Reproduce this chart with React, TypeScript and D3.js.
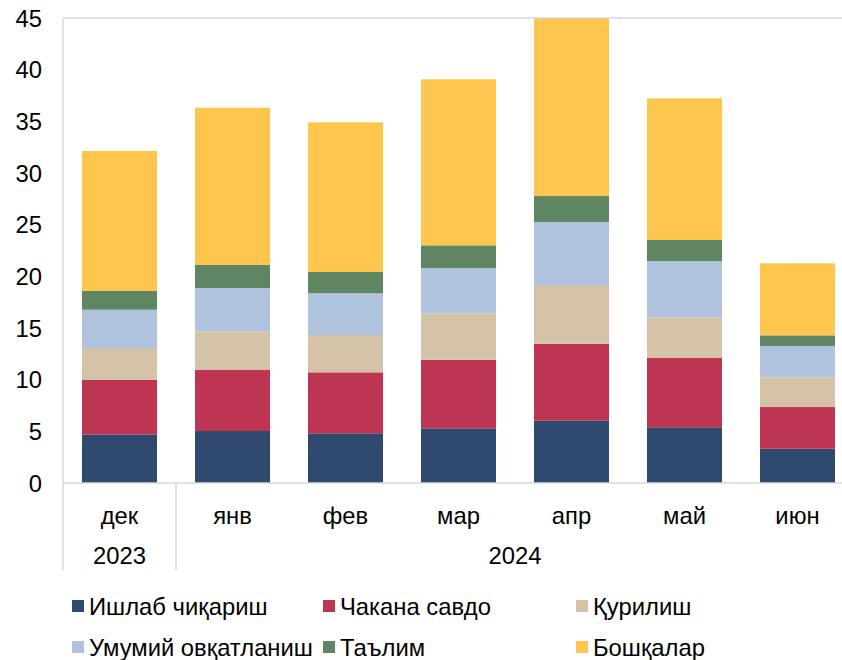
import { scaleBand, scaleLinear, stack } from "d3";

const months = ["дек", "янв", "фев", "мар", "апр", "май", "июн"];
const years = [
  { label: "2023", from: 0, to: 0 },
  { label: "2024", from: 1, to: 6 },
];

const seriesNames = [
  "Ишлаб чиқариш",
  "Чакана савдо",
  "Қурилиш",
  "Умумий овқатланиш",
  "Таълим",
  "Бошқалар",
];
const seriesColors = ["#2F4A6E", "#BE3453", "#D5C3A7", "#AFC3DE", "#5F8563", "#FEC64F"];

const manufacturing = [4.7, 5.03, 4.81, 5.29, 6.03, 5.39, 3.32];
const retail = [5.27, 5.94, 5.9, 6.64, 7.45, 6.74, 4.03];
const construction = [3.09, 3.71, 3.61, 4.49, 5.68, 3.9, 2.88];
const catering = [3.71, 4.19, 4.04, 4.39, 6.1, 5.45, 3.03];
const education = [1.81, 2.23, 2.06, 2.19, 2.51, 2.04, 1.03];
const other = [13.55, 15.22, 14.48, 16.07, 17.23, 13.71, 6.97];

const yTicks = [0, 5, 10, 15, 20, 25, 30, 35, 40, 45];

const W = 842;
const H = 660;
const M = { top: 18, left: 63, bottom: 483, right: 854 };
const FONT = "'Liberation Sans', Arial, sans-serif";
const FS = 23.8;

export default function App() {
  const seriesValues = [manufacturing, retail, construction, catering, education, other];
  const rows = months.map((m, i) => {
    const r: Record<string, number | string> = { month: m };
    seriesNames.forEach((s, k) => (r[s] = seriesValues[k][i]));
    return r;
  });
  const stacked = stack<any>().keys(seriesNames)(rows);

  const x = scaleBand<string>()
    .domain(months)
    .range([M.left, M.right])
    .paddingInner(0.336)
    .paddingOuter(0.168);
  const y = scaleLinear().domain([0, 45]).range([M.bottom, M.top]);
  const step = x.step();
  const axisLine = "#D9D9D9";

  // group boundaries on the category axis (left edge of each year group)
  const bounds = years.map((g) => (x(months[g.from]) ?? 0) - (step - x.bandwidth()) / 2);

  const legendCols = [72, 323, 576];
  const legendRows = [606, 647];

  return (
    <>
      <style>{"body{margin:0}"}</style>
      <svg width={W} height={H} style={{ display: "block", fontFamily: FONT }}>
        <rect width={W} height={H} fill="#fff" />

        {/* bars */}
        {stacked.map((layer, k) => (
          <g key={k} fill={seriesColors[k]}>
            {layer.map((d, i) => (
              <rect
                key={i}
                x={x(months[i])}
                width={x.bandwidth()}
                y={y(d[1])}
                height={y(d[0]) - y(d[1])}
              />
            ))}
          </g>
        ))}

        {/* plot frame */}
        <line x1={M.left} x2={M.right} y1={M.top} y2={M.top} stroke={axisLine} strokeWidth={1.5} />
        <line x1={M.left} x2={M.left} y1={M.top} y2={570} stroke={axisLine} strokeWidth={1.5} />
        <line x1={M.left} x2={M.right} y1={M.bottom} y2={M.bottom} stroke={axisLine} strokeWidth={1.5} />
        {bounds.slice(1).map((bx, i) => (
          <line key={i} x1={bx} x2={bx} y1={M.bottom} y2={570} stroke={axisLine} strokeWidth={1.5} />
        ))}

        {/* y axis labels */}
        {yTicks.map((t) => (
          <text
            key={t}
            x={42}
            y={y(t)}
            dy="0.36em"
            textAnchor="end"
            fontSize={FS}
            fill="#000"
          >
            {t}
          </text>
        ))}

        {/* month labels */}
        {months.map((m) => (
          <text
            key={m}
            x={(x(m) ?? 0) + x.bandwidth() / 2}
            y={515}
            dy="0.36em"
            textAnchor="middle"
            fontSize={FS}
            fill="#000"
          >
            {m}
          </text>
        ))}

        {/* year labels */}
        {years.map((g) => {
          const x0 = (x(months[g.from]) ?? 0) + x.bandwidth() / 2;
          const x1 = (x(months[g.to]) ?? 0) + x.bandwidth() / 2;
          return (
            <text
              key={g.label}
              x={(x0 + x1) / 2}
              y={555}
              dy="0.36em"
              textAnchor="middle"
              fontSize={FS}
              fill="#000"
            >
              {g.label}
            </text>
          );
        })}

        {/* legend */}
        {seriesNames.map((s, k) => {
          const lx = legendCols[k % 3];
          const ly = legendRows[Math.floor(k / 3)];
          return (
            <g key={s}>
              <rect x={lx} y={ly - 6} width={12} height={12} fill={seriesColors[k]} />
              <text x={lx + 17} y={ly} dy="0.36em" fontSize={FS} fill="#000">
                {s}
              </text>
            </g>
          );
        })}
      </svg>
    </>
  );
}
